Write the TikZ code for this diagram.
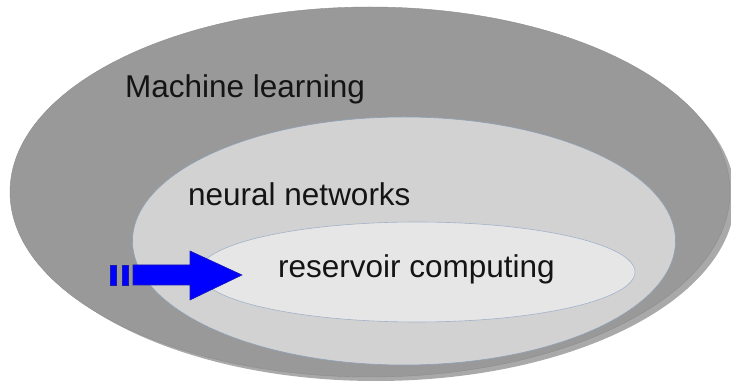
\documentclass[tikz,border=0pt]{standalone}
\usepackage{fontspec}
\setmainfont{Liberation Sans}
\usetikzlibrary{shapes.geometric}
\definecolor{outerfill}{HTML}{999999}
\definecolor{outershade}{HTML}{A9A9A9}
\definecolor{midfill}{HTML}{D2D2D2}
\definecolor{midrim}{HTML}{8DA0B6}
\definecolor{innerfill}{HTML}{E6E6E6}
\definecolor{innerrim}{HTML}{A2B3CA}
\definecolor{arrowblue}{HTML}{0000FF}
\definecolor{arrowrim}{HTML}{1A1AB0}
\tikzset{
  setbox/.style={ellipse, inner sep=0pt},
  setlabel/.style={anchor=base west, inner sep=0pt, font=\fontsize{31.5}{36}\selectfont, text=black!92},
  arrowpart/.style={fill=arrowblue, draw=arrowrim, line width=0.6pt, line join=miter}
}
\begin{document}
\begin{tikzpicture}[x=1pt, y=1pt]
  \useasboundingbox (0,0) rectangle (731,382);
  \fill[white] (0,0) rectangle (731,382);

  % soft shadow under the outer set
  \node[setbox, fill=outershade, minimum width=718, minimum height=368] (mlshadow) at (376,185) {};
  % nested sets
  \node[setbox, fill=outerfill, draw=outerfill!92!black, line width=0.4pt,
        minimum width=720, minimum height=370] (ml) at (370,190) {};
  \node[setbox, fill=midfill, draw=midrim, line width=0.6pt,
        minimum width=543, minimum height=248] (nn) at (404,141) {};
  \node[setbox, fill=innerfill, draw=innerrim, line width=0.6pt,
        minimum width=436, minimum height=100] (rc) at (417,110) {};

  % set labels
  \node[setlabel] (mltext) at (125,284) {Machine learning};
  \node[setlabel] (nntext) at (188,176) {neural networks};
  \node[setlabel] (rctext) at (278,104.5) {reservoir computing};

  % striped block arrow pointing into the innermost set
  \coordinate (tip) at (242,107);
  \draw[arrowpart] (110,97) rectangle (116,117);
  \draw[arrowpart] (122,97) rectangle (128,117);
  \draw[arrowpart] (133,97) -- (190,97) -- (190,82) -- (tip) -- (190,131)
        -- (190,117) -- (133,117) -- cycle;
\end{tikzpicture}
\end{document}
